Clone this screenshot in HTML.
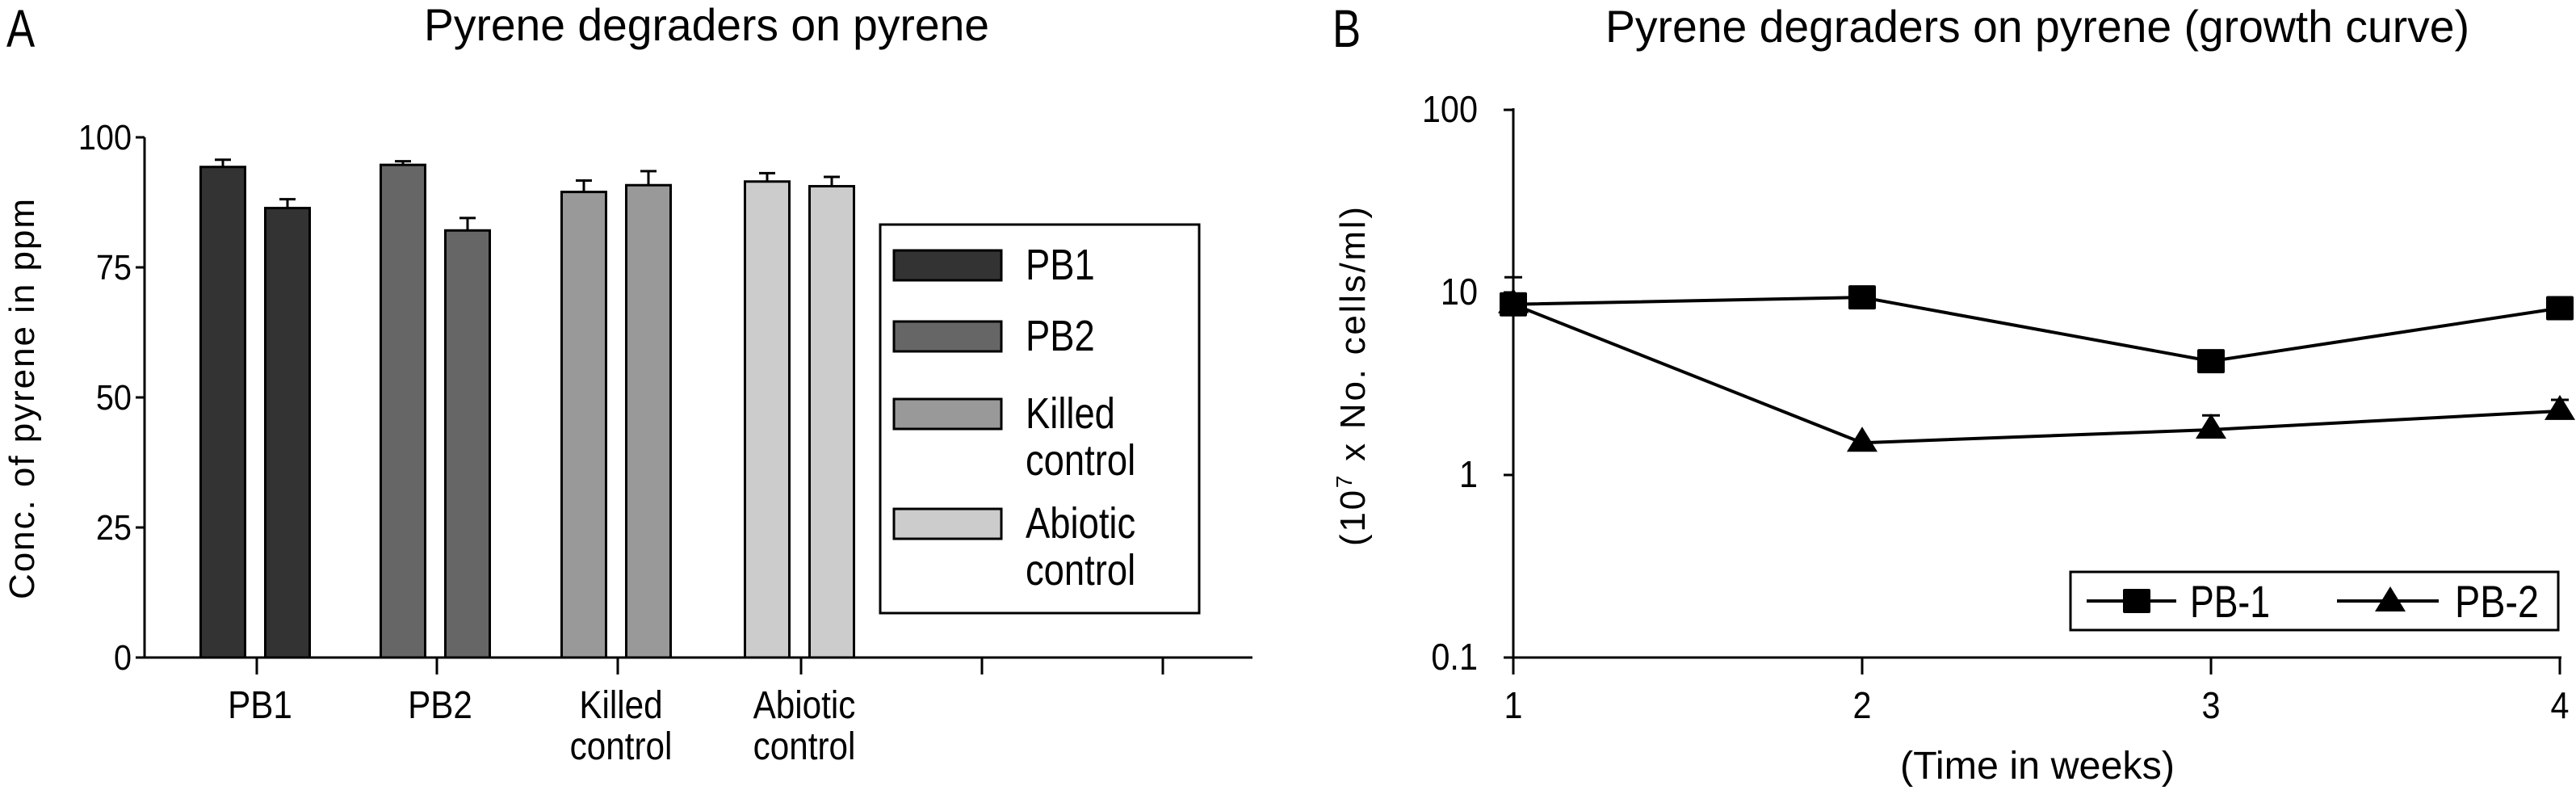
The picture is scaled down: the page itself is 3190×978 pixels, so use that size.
<!DOCTYPE html>
<html><head><meta charset="utf-8"><style>
html,body{margin:0;padding:0;background:#fff;}
svg{display:block;}
text{font-family:"Liberation Sans Narrow","Liberation Sans",sans-serif;fill:#000;}
.w{font-family:"Liberation Sans",sans-serif;}
</style></head><body>
<svg id="fig" width="3190" height="978" viewBox="0 0 3190 978" xmlns="http://www.w3.org/2000/svg">
<g id="pa">
<text x="8" y="58" font-size="66" data-sq="0.8">A</text>
<text x="875" y="50" font-size="56" text-anchor="middle" textLength="700" lengthAdjust="spacingAndGlyphs">Pyrene degraders on pyrene</text>
<text class="w" transform="translate(42,494) rotate(-90)" font-size="44" text-anchor="middle" textLength="496">Conc. of pyrene in ppm</text>
<rect x="1090" y="278" width="395" height="481" fill="#fff" stroke="#000" stroke-width="3"/>
</g>
<g id="pb">
<text x="1650" y="58" font-size="66" data-sq="0.8">B</text>
<text x="2523" y="52" font-size="56" text-anchor="middle" textLength="1070" lengthAdjust="spacingAndGlyphs">Pyrene degraders on pyrene (growth curve)</text>
<text class="w" transform="translate(1690,466) rotate(-90)" font-size="44" text-anchor="middle" textLength="420" lengthAdjust="spacing">(10<tspan dy="-16" font-size="28">7</tspan><tspan dy="16"> x No. cells/ml)</tspan></text>
<text x="2523" y="964" font-size="48" text-anchor="middle" textLength="340" lengthAdjust="spacingAndGlyphs">(Time in weeks)</text>
<rect x="2564" y="708" width="604" height="72" fill="#fff" stroke="#000" stroke-width="3"/>
</g>
</svg>
<script>
// Panel A data
const catsA = [["PB1"],["PB2"],["Killed","control"],["Abiotic","control"]];
const seriesNames = ["PB1","PB2","Killed control","Abiotic control"];
const valsA1 = [94.3, 94.7, 89.5, 91.5];
const errA1 = [1.4, 0.7, 2.2, 1.6];
const valsA2 = [86.4, 82.1, 90.8, 90.6];
const errA2 = [1.7, 2.4, 2.7, 1.8];
const ticksA = [0,25,50,75,100];
// Panel B data
const weeks = [1,2,3,4];
const pb1 = [8.6, 9.4, 4.2, 8.2];
const pb1Err = [3.5, 0, 0, 0];
const pb2 = [8.6, 1.5, 1.77, 2.24];
const pb2Err = [0, 0, 0.35, 0.34];
const ticksB = [0.1,1,10,100];
const ticksBx = [1,2,3,4];

const NS="http://www.w3.org/2000/svg";
function mk(tag,attrs,parent){const e=document.createElementNS(NS,tag);for(const k in attrs)e.setAttribute(k,attrs[k]);parent.appendChild(e);return e;}
const pa=document.getElementById('pa'), pbG=document.getElementById('pb');
const fills=["#333333","#666666","#999999","#cccccc"];
const yA=v=>814-(v/100)*644;
const tickXA=[318,541,765,992,1216,1440];
const xA=i=>tickXA[i];
let e;
for(let i=0;i<catsA.length;i++){
  const pairs=[[valsA1[i],errA1[i],-1],[valsA2[i],errA2[i],1]];
  pairs.forEach((p,j)=>{
    const cx=xA(i)+p[2]*40-2, w=55;
    e=mk('rect',{x:cx-w/2,y:yA(p[0]),width:w,height:814-yA(p[0]),fill:fills[i],stroke:'#000','stroke-width':3},pa);
    
    
    e=mk('path',{d:`M${cx} ${yA(p[0])}V${yA(p[0]+p[1])}M${cx-10} ${yA(p[0]+p[1])}H${cx+10}`,stroke:'#000','stroke-width':3,fill:'none'},pa);
    
    
  });
}
e=mk('path',{d:'M179 170V814H1551',stroke:'#000','stroke-width':3,fill:'none'},pa);


ticksA.forEach(t=>{
  mk('line',{x1:168,x2:179,y1:yA(t),y2:yA(t),stroke:'#000','stroke-width':3},pa);
  e=mk('text',{x:163,y:yA(t)+15,'font-size':44,'text-anchor':'end','data-sq':0.9},pa);e.textContent=t;
  
  
});
tickXA.forEach(x=>mk('line',{x1:x,x2:x,y1:814,y2:835,stroke:'#000','stroke-width':3},pa));
catsA.forEach((c,i)=>{
  c.forEach((s,k)=>{
    e=mk('text',{x:xA(i)+4,y:889+k*51,'font-size':48,'text-anchor':'middle','data-sq':0.88},pa);e.textContent=s;
    
    
  });
});
const legY=[310,398,494,630];
const legLines=[["PB1"],["PB2"],["Killed","control"],["Abiotic","control"]];
seriesNames.forEach((n,i)=>{
  e=mk('rect',{x:1107,y:legY[i],width:133,height:37,fill:fills[i],stroke:'#000','stroke-width':3},pa);
  
  
  legLines[i].forEach((s,k)=>{
    e=mk('text',{x:1270,y:legY[i]+36+k*58,'font-size':54,'data-sq':0.84},pa);e.textContent=s;
    
    
  });
});
const xB=w=>1874+(w-1)*432;
const yB=v=>814-(Math.log10(v)+1)*226;
e=mk('path',{d:'M1874 134V814H3172',stroke:'#000','stroke-width':3,fill:'none'},pbG);


ticksB.forEach(t=>{
  mk('line',{x1:1862,x2:1874,y1:yB(t),y2:yB(t),stroke:'#000','stroke-width':3},pbG);
  e=mk('text',{x:1830,y:yB(t)+15,'font-size':46,'text-anchor':'end','data-sq':0.9},pbG);e.textContent=t;
  
  
});
ticksBx.forEach(t=>{
  mk('line',{x1:xB(t),x2:xB(t),y1:814,y2:835,stroke:'#000','stroke-width':3},pbG);
  e=mk('text',{x:xB(t),y:889,'font-size':46,'text-anchor':'middle','data-sq':0.9},pbG);e.textContent=t;
  
  
});
function line(vals,name){
  const d=vals.map((v,i)=>(i?'L':'M')+xB(weeks[i])+' '+yB(v)).join('');
  const el=mk('path',{d:d,stroke:'#000','stroke-width':4,fill:'none'},pbG);
  
  
}
function errs(vals,er){
  vals.forEach((v,i)=>{ if(!er[i])return; const x=xB(weeks[i]),t=yB(v+er[i]);
    const el=mk('path',{d:`M${x} ${yB(v)}V${t}M${x-11} ${t}H${x+11}`,stroke:'#000','stroke-width':3,fill:'none'},pbG);
    
    });
}
line(pb2,'line-pb-2');line(pb1,'line-pb-1');
errs(pb1,pb1Err);errs(pb2,pb2Err);
function sq(x,y){return mk('rect',{x:x-17,y:y-15,width:34,height:30,rx:2,fill:'#000'},pbG);}
function tri(x,y){return mk('path',{d:`M${x} ${y-20}L${x+19} ${y+11}L${x-19} ${y+11}Z`,fill:'#000'},pbG);}
pb2.forEach((v,i)=>{e=tri(xB(weeks[i]),yB(v));
  
  });
pb1.forEach((v,i)=>{e=sq(xB(weeks[i]),yB(v));
  
  });
mk('line',{x1:2584,x2:2695,y1:744,y2:744,stroke:'#000','stroke-width':4},pbG);
sq(2646,744);
e=mk('text',{x:2712,y:764,'font-size':56,textLength:99,lengthAdjust:'spacingAndGlyphs'},pbG);e.textContent='PB-1';


mk('line',{x1:2894,x2:3020,y1:744,y2:744,stroke:'#000','stroke-width':4},pbG);
tri(2960,746);
e=mk('text',{x:3040,y:764,'font-size':56,textLength:104,lengthAdjust:'spacingAndGlyphs'},pbG);e.textContent='PB-2';


// condense text to mimic narrow face
document.querySelectorAll('text[data-sq]').forEach(t=>{
  const f=parseFloat(t.getAttribute('data-sq'));
  const L=t.getComputedTextLength();
  t.setAttribute('textLength',(L*f).toFixed(1));
  t.setAttribute('lengthAdjust','spacingAndGlyphs');
});
</script>
</body></html>
